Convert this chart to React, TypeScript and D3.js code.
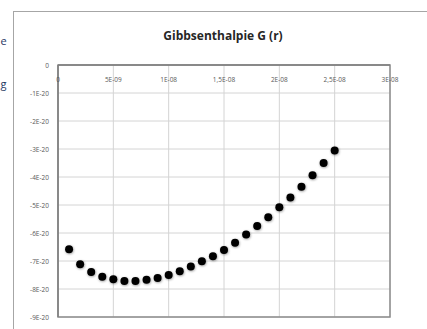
import React, { useEffect, useRef } from 'react'
import * as d3 from 'd3'

// r in metres, G in J
const rValues = [1e-9, 2e-9, 3e-9, 4e-9, 5e-9, 6e-9, 7e-9, 8e-9, 9e-9, 1e-8,
  1.1e-8, 1.2e-8, 1.3e-8, 1.4e-8, 1.5e-8, 1.6e-8, 1.7e-8, 1.8e-8, 1.9e-8, 2e-8,
  2.1e-8, 2.2e-8, 2.3e-8, 2.4e-8, 2.5e-8]
const gValues = [-6.58e-20, -7.12e-20, -7.39e-20, -7.56e-20, -7.65e-20, -7.71e-20, -7.71e-20,
  -7.67e-20, -7.61e-20, -7.5e-20, -7.37e-20, -7.2e-20, -7.01e-20, -6.83e-20, -6.61e-20,
  -6.35e-20, -6.05e-20, -5.75e-20, -5.44e-20, -5.08e-20, -4.73e-20, -4.35e-20, -3.94e-20,
  -3.5e-20, -3.05e-20]

const xTicks = [0, 5e-9, 1e-8, 1.5e-8, 2e-8, 2.5e-8, 3e-8]
const xTickLabels = ['0', '5E-09', '1E-08', '1,5E-08', '2E-08', '2,5E-08', '3E-08']
const yTicks = [0, -1e-20, -2e-20, -3e-20, -4e-20, -5e-20, -6e-20, -7e-20, -8e-20, -9e-20]
const yTickLabels = ['0', '-1E-20', '-2E-20', '-3E-20', '-4E-20', '-5E-20', '-6E-20', '-7E-20', '-8E-20', '-9E-20']

const title = 'Gibbsenthalpie G (r)'

export default function App() {
  const ref = useRef<SVGSVGElement>(null)

  useEffect(() => {
    const width = 427
    const height = 329
    const margin = { top: 65, right: 37, bottom: 12, left: 58 }

    const svg = d3.select(ref.current)
    svg.selectAll('*').remove()

    svg.append('rect')
      .attr('width', width).attr('height', height)
      .attr('fill', '#fff')

    // bits of slide text left of the chart
    svg.append('text')
      .attr('x', 0.5).attr('y', 45)
      .attr('font-family', 'Open Sans, sans-serif').attr('font-size', 11)
      .attr('fill', '#1f3864')
      .text('e')
    svg.append('text')
      .attr('x', 0.5).attr('y', 88)
      .attr('font-family', 'Open Sans, sans-serif').attr('font-size', 11)
      .attr('fill', '#1f3864')
      .text('g')

    // chart frame
    svg.append('rect')
      .attr('x', 13.5).attr('y', 11.5)
      .attr('width', 430).attr('height', 330)
      .attr('fill', '#fff')
      .attr('stroke', '#a6a6a6')

    const x = d3.scaleLinear()
      .domain([0, 3e-8])
      .range([margin.left, width - margin.right])

    const y = d3.scaleLinear()
      .domain([-9e-20, 0])
      .range([height - margin.bottom, margin.top])

    // grid
    svg.append('g')
      .selectAll('line')
      .data(yTicks.slice(1))
      .join('line')
      .attr('x1', margin.left).attr('x2', width - margin.right)
      .attr('y1', d => y(d)).attr('y2', d => y(d))
      .attr('stroke', '#d4d4d4')

    svg.append('g')
      .selectAll('line')
      .data(xTicks.slice(1))
      .join('line')
      .attr('x1', d => x(d)).attr('x2', d => x(d))
      .attr('y1', margin.top).attr('y2', height - margin.bottom)
      .attr('stroke', '#d4d4d4')

    // plot area border
    svg.append('rect')
      .attr('x', margin.left).attr('y', margin.top)
      .attr('width', x(3e-8) - margin.left)
      .attr('height', y(-9e-20) - margin.top)
      .attr('fill', 'none')
      .attr('stroke', '#8c8c8c')
      .attr('stroke-width', 1.5)

    // axes: x axis crosses at G = 0 (top)
    svg.append('line')
      .attr('x1', margin.left).attr('x2', x(3e-8))
      .attr('y1', y(0)).attr('y2', y(0))
      .attr('stroke', '#7f7f7f').attr('stroke-width', 1.5)
    svg.append('line')
      .attr('x1', x(0)).attr('x2', x(0))
      .attr('y1', y(0)).attr('y2', y(-9e-20))
      .attr('stroke', '#7f7f7f').attr('stroke-width', 1.5)

    svg.append('g')
      .selectAll('text')
      .data(xTicks)
      .join('text')
      .attr('x', d => x(d))
      .attr('y', y(0) + 17)
      .attr('text-anchor', 'middle')
      .attr('font-family', 'Open Sans, sans-serif')
      .attr('font-size', 6.5)
      .attr('fill', '#595959')
      .text((d, i) => xTickLabels[i])

    svg.append('g')
      .selectAll('text')
      .data(yTicks)
      .join('text')
      .attr('x', margin.left - 9)
      .attr('y', d => y(d) + 2.5)
      .attr('text-anchor', 'end')
      .attr('font-family', 'Open Sans, sans-serif')
      .attr('font-size', 6.5)
      .attr('fill', '#595959')
      .text((d, i) => yTickLabels[i])

    // title
    svg.append('text')
      .attr('x', 223)
      .attr('y', 40)
      .attr('text-anchor', 'middle')
      .attr('font-family', 'Open Sans, sans-serif')
      .attr('font-weight', 'bold')
      .attr('font-size', 12)
      .attr('fill', '#262626')
      .text(title)

    const defs = svg.append('defs')
    defs.append('filter')
      .attr('id', 'soft')
      .attr('x', '-50%').attr('y', '-50%').attr('width', '200%').attr('height', '200%')
      .append('feDropShadow')
      .attr('dx', 0.5).attr('dy', 0.8)
      .attr('stdDeviation', 0.9)
      .attr('flood-color', '#000')
      .attr('flood-opacity', 0.4)

    svg.append('g')
      .selectAll('circle')
      .data(rValues)
      .join('circle')
      .attr('cx', d => x(d))
      .attr('cy', (d, i) => y(gValues[i]))
      .attr('r', 4)
      .attr('fill', '#000')
      .attr('filter', 'url(#soft)')
  }, [])

  return (
    <svg ref={ref} width={427} height={329}
      style={{ position: 'absolute', left: 0, top: 0, display: 'block' }} />
  )
}
